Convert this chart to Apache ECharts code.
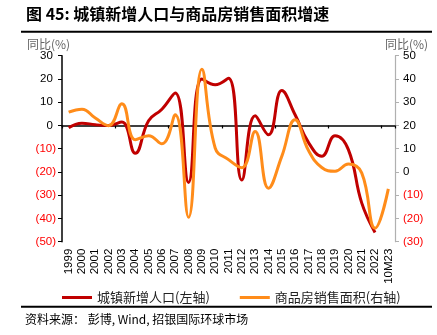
<!DOCTYPE html>
<html>
<head>
<meta charset="utf-8">
<script src="https://cdn.jsdelivr.net/npm/echarts@6/dist/echarts.min.js"></script>
<style>
html,body{margin:0;padding:0;background:#fff;}
#c{width:437px;height:335px;}
</style>
</head>
<body>
<div id="c"></div>
<script>
var categories = ['1999','2000','2001','2002','2003','2004','2005','2006','2007','2008','2009','2010','2011','2012','2013','2014','2015','2016','2017','2018','2019','2020','2021','2022','10M23'];
var urbanPopGrowth = [-1, 1, 0.3, 0, 1.5, -12, 2, 7, 14, -24.5, 20, 17.5, 20.3, -23.5, 4.2, -4, 15, 4.6, -7.3, -13.3, -4.4, -10.4, -33.3, -46, null];
var salesAreaGrowth = [25.7, 27, 23.2, 19.9, 29.3, 13.9, 15.6, 12.1, 24.6, -19.5, 44.2, 10.3, 5.3, 1.8, 17.4, -7, 6.7, 22.4, 9.3, 1.9, 0.3, 3.4, -0.4, -24.2, -7.3];
var seriesNames = ['城镇新增人口(左轴)', '商品房销售面积(右轴)'];
var titleText = '图 45: 城镇新增人口与商品房销售面积增速';
var sourceText = '资料来源： 彭博, Wind, 招银国际环球市场';
var axisUnit = '同比(%)';

var FONT = 'Liberation Sans, Arial, sans-serif';
var CJK = '"Noto Sans CJK SC", sans-serif';

function fmt(v) { return v < 0 ? '(' + (-v) + ')' : v + ' '; }
function col(v) { return Number(v) < 0 ? '#FF0000' : '#000'; }

var chart = echarts.init(document.getElementById('c'), null, {renderer: 'canvas'});
chart.setOption({
  backgroundColor: '#fff',
  animation: false,
  grid: {left: 62, right: 42, top: 55.7, bottom: 93.3, containLabel: false},
  graphic: [
    {type: 'text', left: 26, top: 6, style: {text: titleText, font: 'bold 16px ' + CJK, fill: '#000'}},
    {type: 'line', shape: {x1: 21, y1: 31.7, x2: 432, y2: 31.7}, style: {stroke: '#000', lineWidth: 2}},
    {type: 'text', left: 27, top: 38, style: {text: axisUnit, font: '12px ' + CJK, fill: '#666'}},
    {type: 'text', left: 385, top: 38, style: {text: axisUnit, font: '12px ' + CJK, fill: '#666'}},
    {type: 'line', shape: {x1: 21, y1: 306.7, x2: 432, y2: 306.7}, style: {stroke: '#000', lineWidth: 2}},
    {type: 'text', left: 25, top: 313, style: {text: sourceText, font: '12px ' + CJK, fill: '#000'}}
  ],
  legend: {
    left: 57, top: 286,
    itemWidth: 30, itemHeight: 3, itemGap: 30,
    icon: 'rect',
    textStyle: {fontFamily: CJK, fontSize: 13, color: '#222'},
    data: seriesNames
  },
  xAxis: [
    {
      type: 'category', data: categories, boundaryGap: true, position: 'bottom',
      axisLine: {show: false, onZero: false}, axisTick: {show: false},
      axisLabel: {rotate: 90, margin: 7, fontFamily: FONT, fontSize: 11.5, color: '#000', interval: 0}
    },
    {
      type: 'category', data: categories, boundaryGap: true, position: 'top',
      axisLine: {show: true, onZero: true, onZeroAxisIndex: 0, lineStyle: {color: '#000', width: 1.7}},
      axisTick: {show: true, inside: true, length: 3, lineStyle: {color: '#000', width: 1.2}},
      axisLabel: {show: false}
    }
  ],
  yAxis: [
    {
      type: 'value', min: -50, max: 30, interval: 10, position: 'left',
      axisLine: {show: true, lineStyle: {color: '#000', width: 1.5}},
      axisTick: {show: true, length: 4, lineStyle: {color: '#000', width: 1}},
      splitLine: {show: false},
      axisLabel: {formatter: fmt, color: col, fontFamily: FONT, fontSize: 11.5, margin: 6}
    },
    {
      type: 'value', min: -30, max: 50, interval: 10, position: 'right',
      axisLine: {show: true, lineStyle: {color: '#B0B0B0', width: 1.2}},
      axisTick: {show: true, length: 4, lineStyle: {color: '#B0B0B0', width: 1}},
      splitLine: {show: false},
      axisLabel: {formatter: fmt, color: col, fontFamily: FONT, fontSize: 11.5, margin: 8}
    }
  ],
  series: [
    {
      name: seriesNames[0], type: 'line', data: urbanPopGrowth, xAxisIndex: 0, yAxisIndex: 0,
      smooth: 0.45, showSymbol: false, symbol: 'none',
      lineStyle: {color: '#C00000', width: 3}, itemStyle: {color: '#C00000'}
    },
    {
      name: seriesNames[1], type: 'line', data: salesAreaGrowth, xAxisIndex: 0, yAxisIndex: 1,
      smooth: 0.45, showSymbol: false, symbol: 'none',
      lineStyle: {color: '#FF8C1A', width: 3}, itemStyle: {color: '#FF8C1A'}
    }
  ]
});
</script>
</body>
</html>
